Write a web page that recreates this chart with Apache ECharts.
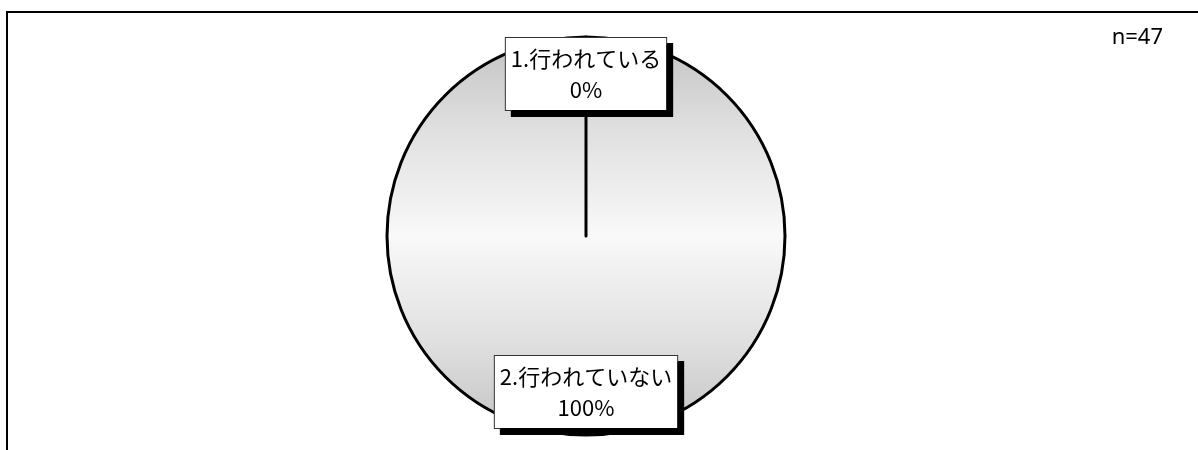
<!DOCTYPE html>
<html>
<head>
<meta charset="utf-8">
<script src="https://cdn.jsdelivr.net/npm/echarts@6/dist/echarts.min.js"></script>
<style>
  html, body { margin: 0; padding: 0; background: #fff; }
  #main { width: 1198px; height: 450px; }
</style>
</head>
<body>
<div id="main"></div>
<script>
// 回答の内訳 (n=47)
const categories = ['2.行われていない', '1.行われている']
const values = [100, 0]
const sampleSize = 47

const chart = echarts.init(document.getElementById('main'))

const pieData = categories.map((name, i) => ({ name, value: values[i] }))

const sliceFill = new echarts.graphic.LinearGradient(0, 0, 0, 1, [
  { offset: 0, color: '#c2c2c2' },
  { offset: 0.22, color: '#dedede' },
  { offset: 0.5, color: '#f9f9f9' },
  { offset: 0.78, color: '#dedede' },
  { offset: 1, color: '#c2c2c2' }
])

const option = {
  animation: false,
  title: {
    text: 'n=' + sampleSize,
    right: 35,
    top: 27,
    padding: 0,
    textStyle: {
      fontFamily: 'Noto Sans',
      fontSize: 22,
      fontWeight: 'normal',
      color: '#000'
    }
  },
  graphic: [{
    type: 'rect',
    silent: true,
    shape: { x: 7, y: 12, width: 1300, height: 600 },
    style: { fill: 'none', stroke: '#000', lineWidth: 2 }
  }],
  series: [{
    type: 'pie',
    center: [586, 236],
    radius: [0, 199],
    startAngle: 90,
    clockwise: true,
    silent: true,
    label: { show: false },
    labelLine: { show: false },
    emphasis: { disabled: true },
    itemStyle: {
      color: sliceFill,
      borderColor: '#000',
      borderWidth: 3
    },
    data: pieData
  }, {
    // ラベル専用
    type: 'pie',
    center: [586, 233],
    radius: [113, 199],
    startAngle: 90,
    clockwise: true,
    silent: true,
    z: 5,
    emphasis: { disabled: true },
    itemStyle: { color: 'rgba(0,0,0,0)', borderWidth: 0 },
    labelLine: { show: false },
    label: {
      show: true,
      position: 'inside',
      formatter: p => p.name + '\n' + Math.round(p.percent) + '%',
      fontFamily: 'Noto Sans CJK JP',
      fontSize: 22,
      lineHeight: 31,
      color: '#000',
      align: 'center',
      backgroundColor: '#fff',
      borderColor: '#333',
      borderWidth: 1,
      padding: [5, 5],
      shadowColor: '#000',
      shadowBlur: 0,
      shadowOffsetX: 6,
      shadowOffsetY: 6
    },
    data: pieData
  }]
}

chart.setOption(option)
</script>
</body>
</html>
